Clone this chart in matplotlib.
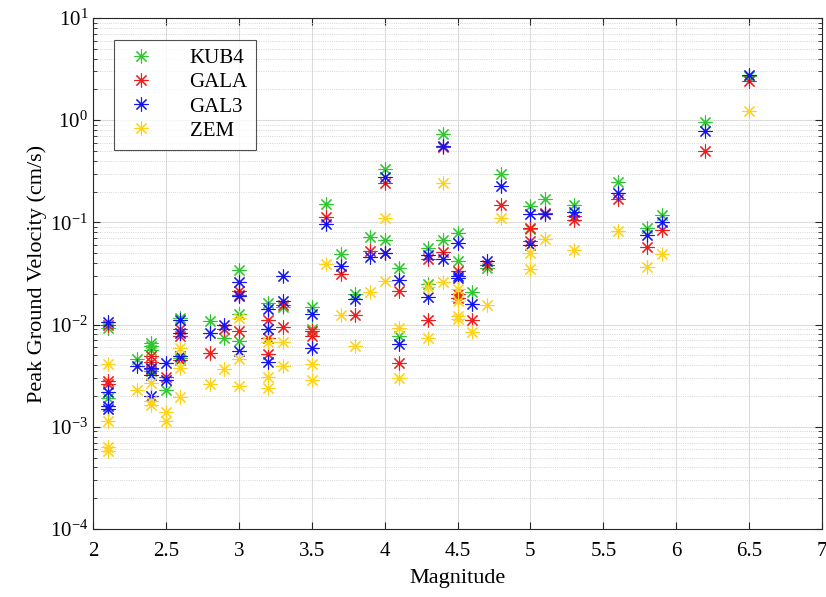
import matplotlib
matplotlib.use("Agg")
import matplotlib.pyplot as plt
import matplotlib.ticker as mticker

# ── data (magnitude, peak ground velocity in cm/s) ─────────────

kub4_mag = [2.1, 2.1, 2.3, 2.4, 2.4, 2.4, 2.4, 2.5, 2.6, 2.6, 2.8, 2.9,
            3.0, 3.0, 3.0, 3.2, 3.3, 3.5, 3.5, 3.6, 3.7, 3.8, 3.9,
            4.0, 4.0, 4.1, 4.1, 4.3, 4.3, 4.4, 4.4, 4.5, 4.5, 4.6, 4.7,
            4.8, 5.0, 5.0, 5.1, 5.3, 5.6, 5.8, 5.9, 6.2, 6.5]
kub4_pgv = [0.0092, 0.0019, 0.0046, 0.0066, 0.0062, 0.0057, 0.0035, 0.0023,
            0.0115, 0.0047, 0.0108, 0.0074,
            0.034, 0.0126, 0.0069, 0.0164, 0.0150, 0.0149, 0.0091, 0.152,
            0.049, 0.0197, 0.0716,
            0.333, 0.068, 0.0355, 0.0077, 0.0563, 0.0247, 0.736, 0.067,
            0.0795, 0.042, 0.021, 0.036,
            0.298, 0.1436, 0.0865, 0.171, 0.149, 0.248, 0.088, 0.119, 0.97, 2.70]

gala_mag = [2.1, 2.1, 2.1, 2.4, 2.4, 2.4, 2.5, 2.6, 2.6, 2.6, 2.8, 2.9,
            3.0, 3.0, 3.0, 3.2, 3.2, 3.2, 3.3, 3.3, 3.5, 3.5, 3.6, 3.7,
            3.8, 3.9, 4.0, 4.0, 4.1, 4.1, 4.3, 4.3, 4.4, 4.4, 4.5, 4.5,
            4.5, 4.6, 4.7, 4.8, 5.0, 5.0, 5.1, 5.3, 5.3, 5.6, 5.8, 5.9,
            6.2, 6.5]
gala_pgv = [0.0100, 0.0028, 0.0026, 0.0049, 0.0043, 0.0037, 0.0031,
            0.0091, 0.0078, 0.0045, 0.0053, 0.0090,
            0.0212, 0.0196, 0.0086, 0.0112, 0.0074, 0.0052, 0.0157, 0.0095,
            0.0086, 0.0077, 0.112, 0.031,
            0.0123, 0.052, 0.243, 0.050, 0.0212, 0.0042, 0.0434, 0.0112,
            0.55, 0.051, 0.0333, 0.020,
            0.0183, 0.0112, 0.0387, 0.149, 0.0883, 0.0655, 0.1235, 0.115,
            0.105, 0.170, 0.0572, 0.085,
            0.494, 2.44]

gal3_mag = [2.1, 2.1, 2.1, 2.1, 2.3, 2.4, 2.4, 2.4, 2.5, 2.5, 2.6, 2.6,
            2.6, 2.8, 2.9, 3.0, 3.0, 3.0, 3.2, 3.2, 3.2, 3.3, 3.3, 3.5,
            3.5, 3.6, 3.7, 3.8, 3.9, 4.0, 4.0, 4.1, 4.1, 4.3, 4.3, 4.4,
            4.4, 4.5, 4.5, 4.5, 4.6, 4.7, 4.8, 5.0, 5.0, 5.1, 5.3, 5.6,
            5.8, 5.9, 6.2, 6.5]
gal3_pgv = [0.0107, 0.0022, 0.0016, 0.0015, 0.0039, 0.0038, 0.0032, 0.0020,
            0.0042, 0.0029, 0.0112, 0.0083,
            0.0049, 0.0082, 0.0100, 0.0260, 0.0190, 0.0055, 0.0141, 0.0091,
            0.0043, 0.0298, 0.0170, 0.0126,
            0.0059, 0.097, 0.0377, 0.0176, 0.0457, 0.276, 0.050, 0.0272,
            0.0064, 0.0478, 0.0185, 0.562,
            0.0437, 0.063, 0.030, 0.0285, 0.0159, 0.042, 0.225, 0.120, 0.060,
            0.120, 0.1256, 0.194,
            0.076, 0.100, 0.79, 2.75]

zem_mag = [2.1, 2.1, 2.1, 2.1, 2.3, 2.4, 2.4, 2.4, 2.5, 2.5, 2.6, 2.6,
           2.6, 2.8, 2.9, 3.0, 3.0, 3.0, 3.2, 3.2, 3.2, 3.3, 3.3, 3.5,
           3.5, 3.6, 3.7, 3.8, 3.9, 4.0, 4.0, 4.1, 4.1, 4.3, 4.3, 4.4,
           4.4, 4.5, 4.5, 4.5, 4.5, 4.6, 4.7, 4.8, 5.0, 5.0, 5.1, 5.3,
           5.6, 5.8, 5.9, 6.5]
zem_pgv = [0.0041, 0.00113, 0.00063, 0.00058, 0.0023, 0.0027, 0.0018, 0.00165,
           0.00138, 0.00114, 0.0059, 0.0038,
           0.00196, 0.0026, 0.0037, 0.0117, 0.0046, 0.0025, 0.0067, 0.0031,
           0.0024, 0.0067, 0.0039, 0.0041,
           0.0029, 0.0395, 0.0123, 0.0062, 0.0208, 0.111, 0.0266, 0.0093,
           0.0030, 0.0235, 0.0074, 0.243,
           0.026, 0.0225, 0.0170, 0.0121, 0.0113, 0.0085, 0.0157, 0.111,
           0.050, 0.0352, 0.069, 0.0542,
           0.0818, 0.0367, 0.0495, 1.24]

stations = ["KUB4", "GALA", "GAL3", "ZEM"]
x_ticks = [2, 2.5, 3, 3.5, 4, 4.5, 5, 5.5, 6, 6.5, 7]

# ── styling ────────────────────────────────────────────────────

plt.rcParams["font.family"] = ["Liberation Serif", "DejaVu Serif"]
plt.rcParams["mathtext.fontset"] = "custom"
plt.rcParams["mathtext.rm"] = "Liberation Serif"
plt.rcParams["mathtext.it"] = "Liberation Serif:italic"

COLORS = {"KUB4": "#2fc72f", "GALA": "#ee1c1c", "GAL3": "#1414f0", "ZEM": "#ffd21a"}
ASTERISK = (8, 2, 0)

fig = plt.figure(figsize=(8.26, 5.97), dpi=100)
ax = fig.add_axes([0.1126, 0.1139, 0.8826, 0.8560])

series = [
    ("KUB4", kub4_mag, kub4_pgv),
    ("GALA", gala_mag, gala_pgv),
    ("GAL3", gal3_mag, gal3_pgv),
    ("ZEM", zem_mag, zem_pgv),
]
for name, xs, ys in series:
    ax.plot(xs, ys, linestyle="none", marker=ASTERISK, markersize=10,
            markeredgewidth=0.8, color=COLORS[name], label=name)

ax.set_yscale("log")
ax.set_xlim(2, 7)
ax.set_ylim(1e-4, 1e1)
ax.set_xticks(x_ticks)
ax.xaxis.set_major_formatter(mticker.FuncFormatter(lambda v, _: f"{v:g}"))
ax.yaxis.set_major_locator(mticker.LogLocator(base=10, numticks=10))
ax.yaxis.set_minor_locator(mticker.LogLocator(base=10, subs=range(2, 10), numticks=20))

ax.grid(True, which="major", color="#dcdcdc", linewidth=0.8, linestyle="-")
ax.grid(True, which="minor", axis="y", color="#c8c8c8", linewidth=0.6, linestyle=":")
ax.set_axisbelow(True)

ax.tick_params(which="both", direction="in", top=True, right=True,
               labelsize=15, colors="#262626", labelcolor="black")
ax.tick_params(which="major", length=5)
ax.tick_params(which="minor", length=3)
ax.tick_params(axis="x", pad=9)
for sp in ax.spines.values():
    sp.set_color("#262626")
    sp.set_linewidth(0.8)

ax.set_xlabel("Magnitude", fontsize=16, labelpad=6)
ax.set_ylabel("Peak Ground Velocity (cm/s)", fontsize=16, labelpad=2)

leg = ax.legend(loc="upper left", bbox_to_anchor=(0.029, 0.957), fontsize=15,
                frameon=True, fancybox=False, edgecolor="#262626",
                borderaxespad=0, handletextpad=1.5, handlelength=1.7,
                borderpad=0.42, labelspacing=0.22, markerscale=1.0)
leg.get_frame().set_linewidth(0.8)

fig.savefig("out.png", dpi=100)
